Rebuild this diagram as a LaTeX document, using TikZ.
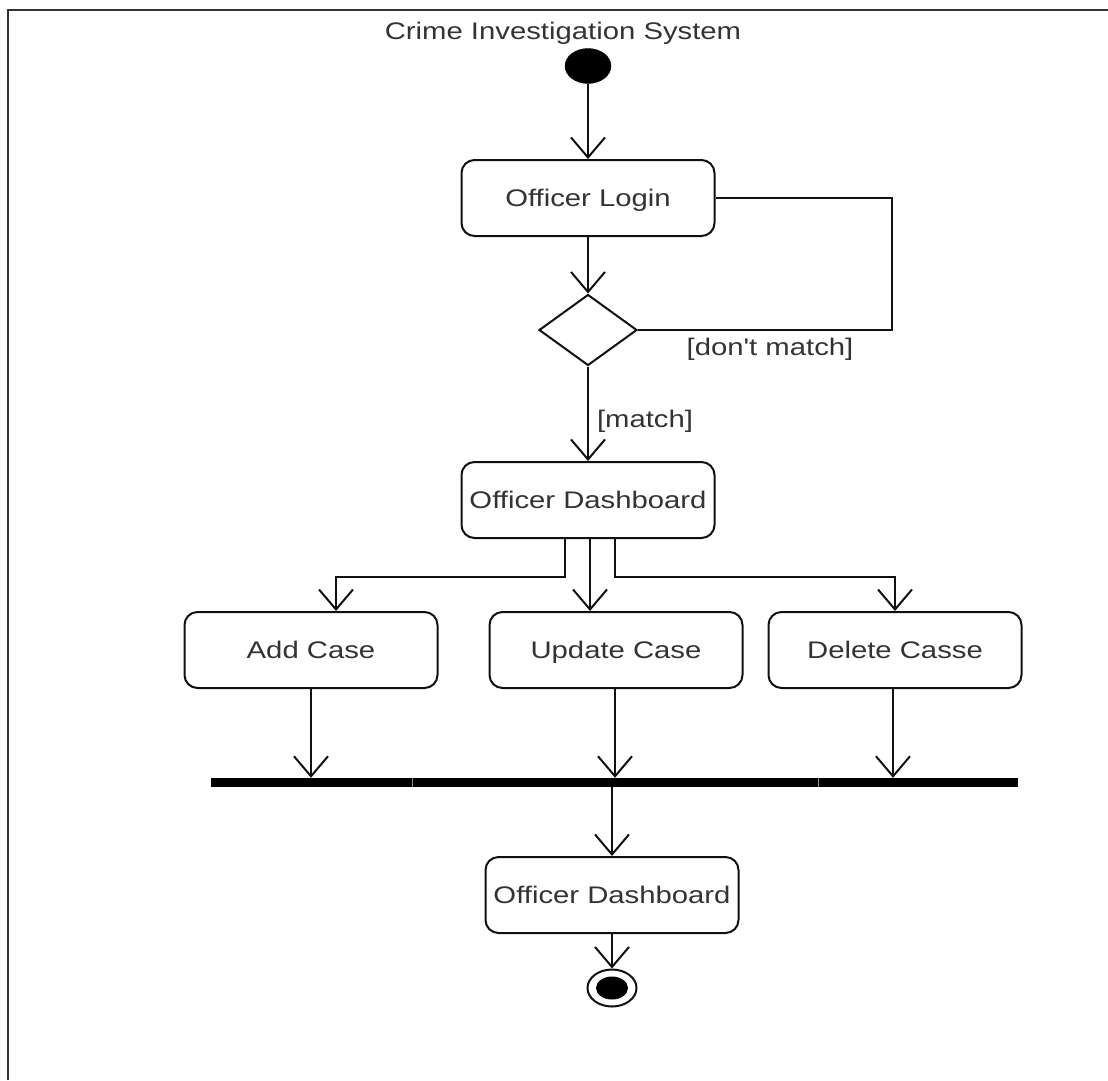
\documentclass[tikz,border=0pt]{standalone}
\usepackage{fontspec}
\setmainfont{Liberation Sans}[FakeStretch=1.22, Ligatures=TeXOff]
\usetikzlibrary{arrows.meta,shapes.geometric}
\definecolor{ink}{HTML}{111111}
\definecolor{txt}{HTML}{333333}
\begin{document}
\begin{tikzpicture}[x=1pt,y=-1pt,
  every node/.style={font=\fontsize{24}{28}\selectfont, text=txt},
  action/.style={draw=ink, line width=2pt, rounded corners=13pt,
    minimum width=253pt, minimum height=76pt, inner sep=0pt, fill=white,
    text height=17pt, text depth=0pt},
  decision/.style={diamond, draw=ink, line width=2pt, minimum width=98pt,
    minimum height=71pt, inner sep=0pt},
  flow/.style={draw=ink, line width=2pt, -{Straight Barb[length=20pt,width=34pt]}},
  plain/.style={draw=ink, line width=2pt},
  guard/.style={inner sep=0pt},
  frame/.style={draw=black!80, line width=2.5pt}]
\useasboundingbox (0,0) rectangle (1108,1080);
\fill[white] (0,0) rectangle (1108,1080);

% outer frame
\draw[frame] (8,1080) -- (8,10) -- (1108,10);

% title
\node (title) at (563,33) {Crime Investigation System};

% start node
\node[ellipse, fill=black, draw=black, minimum width=46pt, minimum height=35pt, inner sep=0pt] (start) at (588,66) {};

% actions
\node[action] (login) at (588,198) {Officer Login};
\node[decision] (dec) at (588,330) {};
\node[action] (dash) at (588,500) {Officer Dashboard};
\node[action] (add) at (311,650) {Add Case};
\node[action] (upd) at (616,650) {Update Case};
\node[action] (del) at (895,650) {Delete Casse};

% join bar
\node[fill=black, minimum width=807pt, minimum height=9pt, inner sep=0pt] (bar) at (614.5,782.5) {};
\draw[black!45, line width=0.8pt] (412,778) -- (412,787) (818,778) -- (818,787);

\node[action] (dash2) at (612,895) {Officer Dashboard};

% final node
\node[ellipse, draw=ink, line width=2pt, fill=white, minimum width=49pt, minimum height=37pt, inner sep=0pt] (final) at (612,988) {};
\node[ellipse, fill=black, minimum width=32pt, minimum height=23pt, inner sep=0pt] (finalin) at (final.center) {};

% connectors
\draw[flow] (start) -- (login.north);
\draw[flow] (login.south) -- (dec.north);
\draw[plain] (login.east) -- ++(176,0) |- (dec.east);
\node[guard] (nomatch) at (770,349) {[don't match]};
\draw[flow] (dec.south) -- (dash.north);
\node[guard] (match) at (645,421) {[match]};

\draw[flow] ([xshift=-23pt]dash.south) -- ++(0,38) -| ([xshift=25pt]add.north);
\draw[flow] ([xshift=2pt]dash.south) -- ([xshift=2pt]dash.south |- upd.north);
\draw[flow] ([xshift=27pt]dash.south) -- ++(0,38) -| (del.north);

\draw[flow] (add.south) -- (add.south |- bar.north);
\draw[flow] ([xshift=-1pt]upd.south) -- ([xshift=-1pt]upd.south |- bar.north);
\draw[flow] ([xshift=-2pt]del.south) -- ([xshift=-2pt]del.south |- bar.north);

\draw[flow] (bar.south -| dash2.north) -- (dash2.north);
\draw[flow] (dash2.south) -- (final.north);
\end{tikzpicture}
\end{document}
